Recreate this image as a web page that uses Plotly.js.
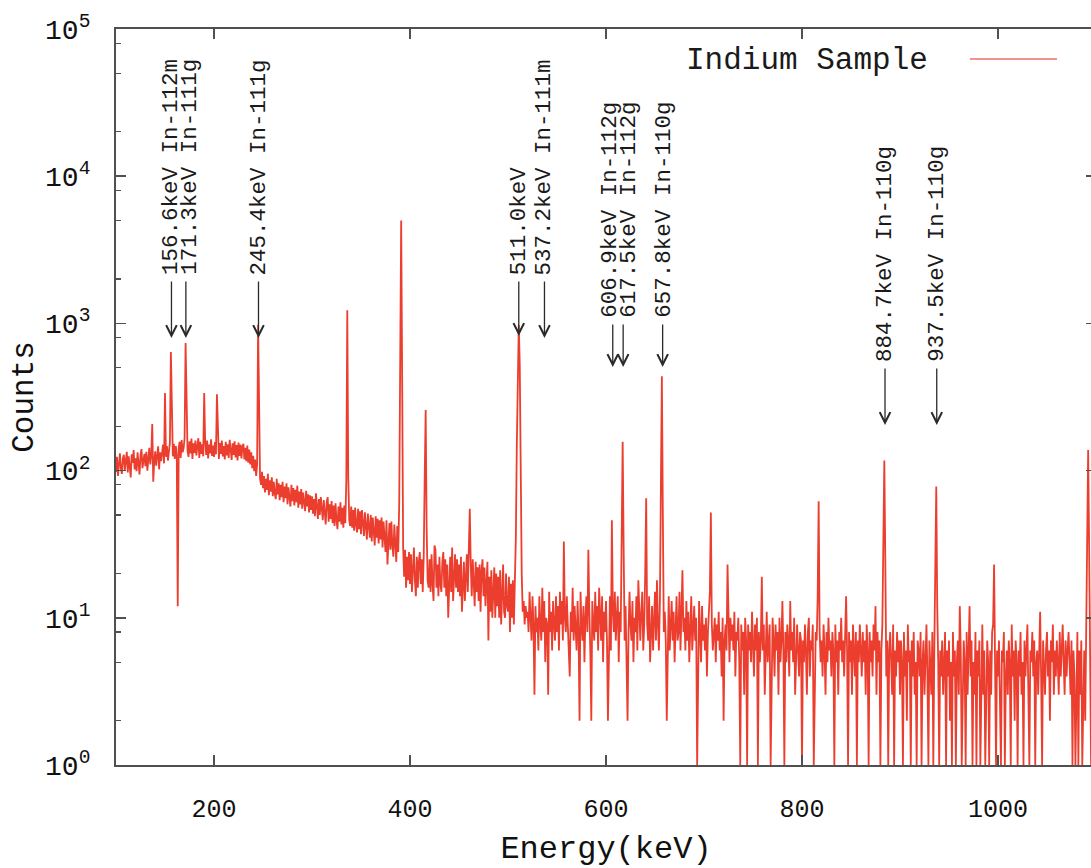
<!DOCTYPE html>
<html>
<head>
<meta charset="utf-8">
<script src="https://cdn.plot.ly/plotly-3.0.1.min.js"></script>
<style>
  html, body { margin: 0; padding: 0; background: #ffffff; overflow: hidden; }
  #chart { width: 1100px; height: 868px; }
</style>
</head>
<body>
<div id="chart"></div>
<script>
// ---------------- data ----------------
// channel energies: first channel 100 keV, 1 keV per channel
const energyStart = 100;
const energyStep = 1;

const counts100 = [
  98,124,92,117,131,103,95,121,128,101,
  112,134,97,125,106,90,129,113,138,102,
  121,99,133,108,94,127,140,104,119,130,
  107,134,100,124,143,110,128,207,84,115,
  135,108,130,146,102,133,116,139,150,112,
  337,124,147,117,142,155,640,176,125,152,
  120,147,128,12,144,157,122,161,133,142,
  166,736,201,136,124,158,131,165,120,153,
  132,160,127,152,166,122,157,130,151,125,
  337,155,128,160,121,150,131,163,126,148
];
const counts200 = [
  124,156,129,330,150,120,154,130,160,125,
  147,119,157,127,151,122,162,131,118,153,
  128,158,123,149,117,155,126,150,121,146,
  152,119,143,116,148,113,139,110,133,104,
  126,99,119,92,110,980,310,88,80,98,
  76,92,71,88,74,95,68,86,72,90,
  67,84,70,64,88,69,82,63,80,66,
  84,61,78,65,82,59,77,64,57,80,
  62,76,58,74,61,79,56,72,59,75,
  55,71,58,53,73,57,69,52,68,54
];
const counts300 = [
  67,51,64,49,70,53,47,64,50,66,
  52,46,63,48,43,61,66,45,59,47,
  62,44,58,42,60,46,40,57,45,61,
  43,56,41,58,44,85,1230,90,46,42,
  57,41,54,39,56,43,38,55,40,53,
  37,54,41,36,52,39,34,51,38,35,
  50,33,48,36,31,49,35,47,32,46,
  34,48,30,45,33,28,46,23,32,44,
  29,45,31,26,43,30,24,42,28,60,
  900,5000,420,30,19,29,16,26,18,28
];
const counts400 = [
  17,27,15,25,30,18,14,26,16,24,
  28,17,25,15,26,90,258,40,18,16,
  25,15,27,17,13,31,29,16,23,14,
  26,17,15,24,28,16,25,14,23,10,
  17,26,15,30,13,23,27,16,25,15,
  23,14,26,11,16,24,13,22,27,15,
  35,55,23,14,25,16,12,24,15,22,
  13,23,11,21,25,14,22,12,20,24,
  7,19,11,21,10,18,22,10,20,12,
  19,10,21,9,18,23,11,10,20,12
];
const counts500 = [
  11,19,8,17,10,18,9,16,35,150,
  600,975,520,90,20,11,13,9,12,10,
  11,8,15,10,7,14,9,3,12,8,
  10,6,14,9,7,16,8,13,5,10,
  9,3,15,8,11,6,13,9,7,14,
  8,12,6,15,9,13,7,33,10,8,
  14,9,6,4,11,8,16,7,12,9,
  6,13,8,2,15,9,7,12,5,10,
  14,8,29,11,6,2,13,9,7,15,
  8,12,6,16,9,7,14,5,11,8
];
const counts600 = [
  13,7,2,9,14,6,46,11,8,15,
  7,10,14,5,11,8,25,157,30,7,
  12,6,2,8,15,9,7,13,5,10,
  8,14,6,18,10,7,11,15,6,9,
  20,65,9,7,14,5,8,12,6,10,
  15,7,18,9,6,13,120,437,50,8,
  11,7,2,9,14,6,8,13,7,11,
  5,10,14,7,8,15,6,11,21,8,
  10,6,13,7,11,5,9,14,6,8,
  12,7,10,1,6,13,8,5,12,7
];
const counts700 = [
  9,6,10,4,8,11,15,52,9,6,
  8,10,5,9,7,11,6,8,4,10,
  2,7,9,6,23,8,5,10,7,9,
  6,11,4,8,7,10,5,1,9,6,
  8,3,10,7,1,9,6,8,5,11,
  7,4,9,6,10,1,8,5,7,19,
  6,9,3,8,11,5,7,9,1,6,
  10,7,4,9,6,8,3,10,5,7,
  13,6,1,8,5,9,7,4,13,6,
  8,5,10,3,7,9,6,4,8,7
];
const counts800 = [
  1,7,5,9,6,3,8,10,4,7,
  6,9,1,5,8,7,14,62,8,5,
  7,4,9,6,3,8,5,10,6,7,
  4,8,6,1,9,5,7,3,8,6,
  10,5,7,4,9,14,6,1,8,5,
  7,3,9,6,4,8,1,7,5,9,
  6,4,8,5,7,3,9,6,1,8,
  5,7,4,9,6,12,3,8,5,7,
  1,6,9,30,117,25,4,7,1,6,
  8,5,3,9,1,6,4,8,5,7
];
const counts900 = [
  3,7,5,1,8,4,6,2,9,5,
  6,1,7,4,8,3,5,1,7,6,
  4,8,1,5,7,3,6,9,4,1,
  7,5,3,8,1,6,20,78,12,5,
  1,6,4,7,3,5,8,1,6,4,
  7,2,5,1,8,4,6,1,5,7,
  3,12,6,1,4,7,5,1,8,3,
  6,12,4,7,1,5,3,8,1,6,
  4,7,1,5,9,3,6,1,4,7,
  5,1,6,3,8,9,23,5,1,6
];
const counts1000 = [
  4,7,3,1,6,5,8,1,4,6,
  3,7,5,1,9,4,6,2,7,5,
  1,6,4,8,3,5,1,7,4,6,
  9,3,1,6,5,8,4,7,1,5,
  6,3,8,11,4,1,7,5,3,6,
  8,4,6,2,7,5,9,3,6,4,
  7,5,3,8,4,6,9,5,3,7,
  4,6,8,5,3,7,1,6,4,1,
  5,8,1,6,3,7,1,4,6,2,
  9,45,138,30,5,1,7,4,6,3,8
];

const seriesName = 'Indium Sample';

// identified gamma lines (energy in keV) and their labels
const lineEnergies = [156.6, 171.3, 245.4, 511.0, 537.2, 606.9, 617.5, 657.8, 884.7, 937.5];
const lineLabels = [
  '156.6keV In-112m', '171.3keV In-111g', '245.4keV In-111g', '511.0keV',
  '537.2keV In-111m', '606.9keV In-112g', '617.5keV In-112g', '657.8keV In-110g',
  '884.7keV In-110g', '937.5keV In-110g'
];

const xTickVals = [200, 400, 600, 800, 1000];
const yTickVals = [1, 10, 100, 1000, 10000, 100000];
const yTickText = ['10<sup>0</sup>', '10<sup>1</sup>', '10<sup>2</sup>', '10<sup>3</sup>', '10<sup>4</sup>', '10<sup>5</sup>'];
const yMinorVals = [2, 5, 8, 20, 50, 80, 200, 500, 800, 2000, 5000, 8000, 20000, 50000, 80000];

// ---------------- layout / style ----------------
const counts = [].concat(counts100, counts200, counts300, counts400, counts500,
                         counts600, counts700, counts800, counts900, counts1000);

const FONT = 'Liberation Mono, Courier New, monospace';
const AXIS_COLOR = '#505050';
const RED = 'rgb(236,62,46)';
const plotTop = 29, plotBottom = 765, plotLeft = 116, plotRight = 1096;
const pxToPaperY = py => (plotBottom - py) / (plotBottom - plotTop);
const pxToPaperX = px => (px - plotLeft) / (plotRight - plotLeft);

// label placement (pixel rows): where the rotated text ends and where the arrow tip is
const labelBottomPx = [277, 277, 277, 277, 277, 320, 320, 320, 364, 364];
const arrowTipPx    = [338, 338, 338, 336, 338, 367, 367, 367, 425, 425];
const labelShiftPx  = [-0.5, 4, 1, 0, 0, -3, 5.5, 1, 0, 0];

const annotations = [];
lineEnergies.forEach((e, i) => {
  annotations.push({
    x: e, xref: 'x', y: pxToPaperY(labelBottomPx[i]), yref: 'paper',
    text: lineLabels[i], textangle: -90, showarrow: false,
    xanchor: 'center', yanchor: 'bottom', xshift: labelShiftPx[i],
    font: { family: FONT, size: 22.5, color: '#1a1a1a' }
  });
  annotations.push({
    x: e, xref: 'x', y: pxToPaperY(arrowTipPx[i]), yref: 'paper',
    text: '', showarrow: true, ax: 0, ay: -(arrowTipPx[i] - labelBottomPx[i] - 3),
    arrowhead: 5, arrowsize: 1.6, arrowwidth: 1.3, arrowcolor: '#2a2a2a', standoff: 0
  });
});

// legend (gnuplot style: text then line sample)
annotations.push({
  x: pxToPaperX(930), xref: 'paper', y: pxToPaperY(61), yref: 'paper',
  text: seriesName, showarrow: false, xanchor: 'right', yanchor: 'middle',
  font: { family: FONT, size: 31, color: '#1a1a1a' }
});

const shapes = [{
  type: 'line', xref: 'paper', yref: 'paper',
  x0: pxToPaperX(970), x1: pxToPaperX(1057), y0: pxToPaperY(59), y1: pxToPaperY(59),
  line: { color: 'rgb(240,110,100)', width: 1.5 }
}];

const trace = {
  type: 'scatter', mode: 'lines',
  x0: energyStart, dx: energyStep, y: counts,
  name: seriesName, showlegend: false, hoverinfo: 'skip',
  line: { color: RED, width: 1.8 }
};

const layout = {
  width: 1100, height: 868,
  margin: { l: plotLeft, r: 1100 - plotRight, t: plotTop, b: 868 - plotBottom },
  paper_bgcolor: '#ffffff', plot_bgcolor: '#ffffff',
  showlegend: false,
  xaxis: {
    range: [100, 1100], tickmode: 'array', tickvals: xTickVals,
    ticks: 'inside', ticklen: 10, tickwidth: 1.5, tickcolor: AXIS_COLOR,
    showline: true, linecolor: AXIS_COLOR, linewidth: 2, mirror: 'ticks',
    showgrid: false, zeroline: false,
    tickfont: { family: FONT, size: 25, color: '#111' },
    ticklabelstandoff: 20,
    title: { text: 'Energy(keV)', font: { family: FONT, size: 32, color: '#111' }, standoff: 22 }
  },
  yaxis: {
    type: 'log', range: [0, 5], tickmode: 'array', tickvals: yTickVals, ticktext: yTickText,
    ticks: 'inside', ticklen: 10, tickwidth: 1.5, tickcolor: AXIS_COLOR,
    minor: { tickmode: 'array', tickvals: yMinorVals, ticks: 'inside', ticklen: 5, tickwidth: 1.2, tickcolor: AXIS_COLOR },
    showline: true, linecolor: AXIS_COLOR, linewidth: 2, mirror: 'ticks',
    showgrid: false, zeroline: false,
    tickfont: { family: FONT, size: 28, color: '#111' },
    ticklabelstandoff: 18,
    title: { text: 'Counts', font: { family: FONT, size: 31, color: '#111' }, standoff: 2 }
  },
  annotations: annotations,
  shapes: shapes
};

Plotly.newPlot('chart', [trace], layout, { staticPlot: true, displayModeBar: false });
</script>
</body>
</html>
